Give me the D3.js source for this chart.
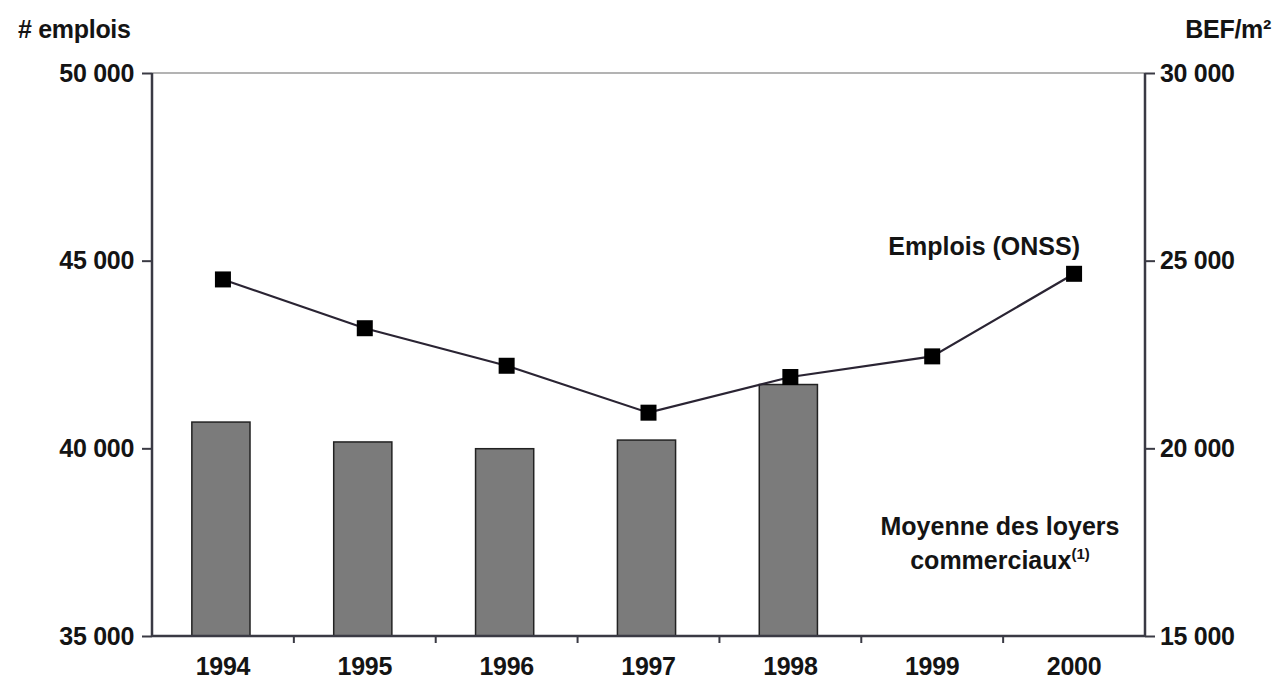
<!DOCTYPE html>
<html><head><meta charset="utf-8">
<script src="https://cdn.jsdelivr.net/npm/d3@7"></script>
<style>
html,body{margin:0;padding:0;background:#fff;}
text{font-family:"Liberation Sans",Arial,sans-serif;font-weight:bold;fill:#141414;}
</style></head>
<body>
<svg id="c" width="1277" height="697"></svg>
<script>
const years = ["1994","1995","1996","1997","1998","1999","2000"];
const emplois = [44500, 43200, 42200, 40950, 41900, 42450, 44650];
const loyersYears = ["1994","1995","1996","1997","1998"];
const loyers = [20700, 20170, 19990, 20220, 21700];
const leftTicks = [35000, 40000, 45000, 50000];
const rightTicks = [15000, 20000, 25000, 30000];

const svg = d3.select("#c");
const L = 152, R = 1145, T = 73, B = 636;
const x = d3.scaleBand().domain(years).range([L, R]).padding(0);
const yL = d3.scaleLinear().domain([35000, 50000]).range([B, T]);
const yR = d3.scaleLinear().domain([15000, 30000]).range([B, T]);
const fmt = d3.formatLocale({decimal: ",", thousands: " ", grouping: [3]}).format(",d");
const fs = 25;

// top gridline
svg.append("line").attr("x1", L).attr("x2", R).attr("y1", yL(50000)).attr("y2", yL(50000))
  .attr("stroke", "#9a9a9a").attr("stroke-width", 1.5);

// bars
const bw = x.bandwidth() * 0.41;
svg.selectAll("rect.bar").data(loyersYears).join("rect")
  .attr("class", "bar")
  .attr("x", d => x(d) + x.bandwidth() / 2 - bw / 2 - 2)
  .attr("width", bw)
  .attr("y", (d, i) => yR(loyers[i]))
  .attr("height", (d, i) => B - yR(loyers[i]))
  .attr("fill", "#7b7b7b").attr("stroke", "#222").attr("stroke-width", 1.5);

// axes
const axL = svg.append("g").attr("transform", `translate(${L},0)`)
  .call(d3.axisLeft(yL).tickValues(leftTicks).tickFormat(fmt).tickSize(10).tickPadding(8));
const axR = svg.append("g").attr("transform", `translate(${R},0)`)
  .call(d3.axisRight(yR).tickValues(rightTicks).tickFormat(fmt).tickSize(10).tickPadding(5));
const axB = svg.append("g").attr("transform", `translate(0,${B})`)
  .call(d3.axisBottom(x).tickSize(0).tickPadding(21));
[axL, axR, axB].forEach(g => {
  g.selectAll(".domain").attr("stroke", "#3a3a44").attr("stroke-width", 2.5);
  g.selectAll(".tick line").attr("stroke", "#3a3a44").attr("stroke-width", 2);
  g.selectAll("text").attr("font-size", fs).attr("font-family", "Liberation Sans, Arial, sans-serif")
    .attr("font-weight", "bold").attr("fill", "#141414").attr("letter-spacing", -0.3);
});
axL.select(".domain").attr("d", `M0,${B}V${T}`);
axR.select(".domain").attr("d", `M0,${B}V${T}`);
axB.select(".domain").attr("d", `M${L},0H${R}`);
// category boundary ticks
svg.append("g").selectAll("line").data(years.slice(1)).join("line")
  .attr("x1", d => x(d)).attr("x2", d => x(d)).attr("y1", B).attr("y2", B + 7)
  .attr("stroke", "#3a3a44").attr("stroke-width", 2);

// line
const line = d3.line().x((d, i) => x(years[i]) + x.bandwidth() / 2).y(d => yL(d));
svg.append("path").datum(emplois).attr("d", line)
  .attr("fill", "none").attr("stroke", "#2a2433").attr("stroke-width", 2.2);
svg.selectAll("rect.mk").data(emplois).join("rect").attr("class", "mk")
  .attr("x", (d, i) => x(years[i]) + x.bandwidth() / 2 - 8)
  .attr("y", d => yL(d) - 8).attr("width", 16).attr("height", 16).attr("fill", "#000");

// titles
svg.append("text").attr("x", 18).attr("y", 38).attr("font-size", fs).attr("letter-spacing", -0.3).text("# emplois");
svg.append("text").attr("x", 1271).attr("y", 38).attr("text-anchor", "end").attr("font-size", fs).attr("letter-spacing", -0.3).text("BEF/m²");
svg.append("text").attr("x", 1080).attr("y", 255).attr("text-anchor", "end").attr("font-size", fs).text("Emplois (ONSS)");
const cx = 1000;
const t2 = svg.append("text").attr("x", cx).attr("y", 535).attr("text-anchor", "middle").attr("font-size", fs);
t2.append("tspan").attr("x", cx).text("Moyenne des loyers");
const ts = t2.append("tspan").attr("x", cx).attr("dy", 34).text("commerciaux");
ts.append("tspan").attr("font-size", 15).attr("dy", -10).text("(1)");
</script>
</body></html>
